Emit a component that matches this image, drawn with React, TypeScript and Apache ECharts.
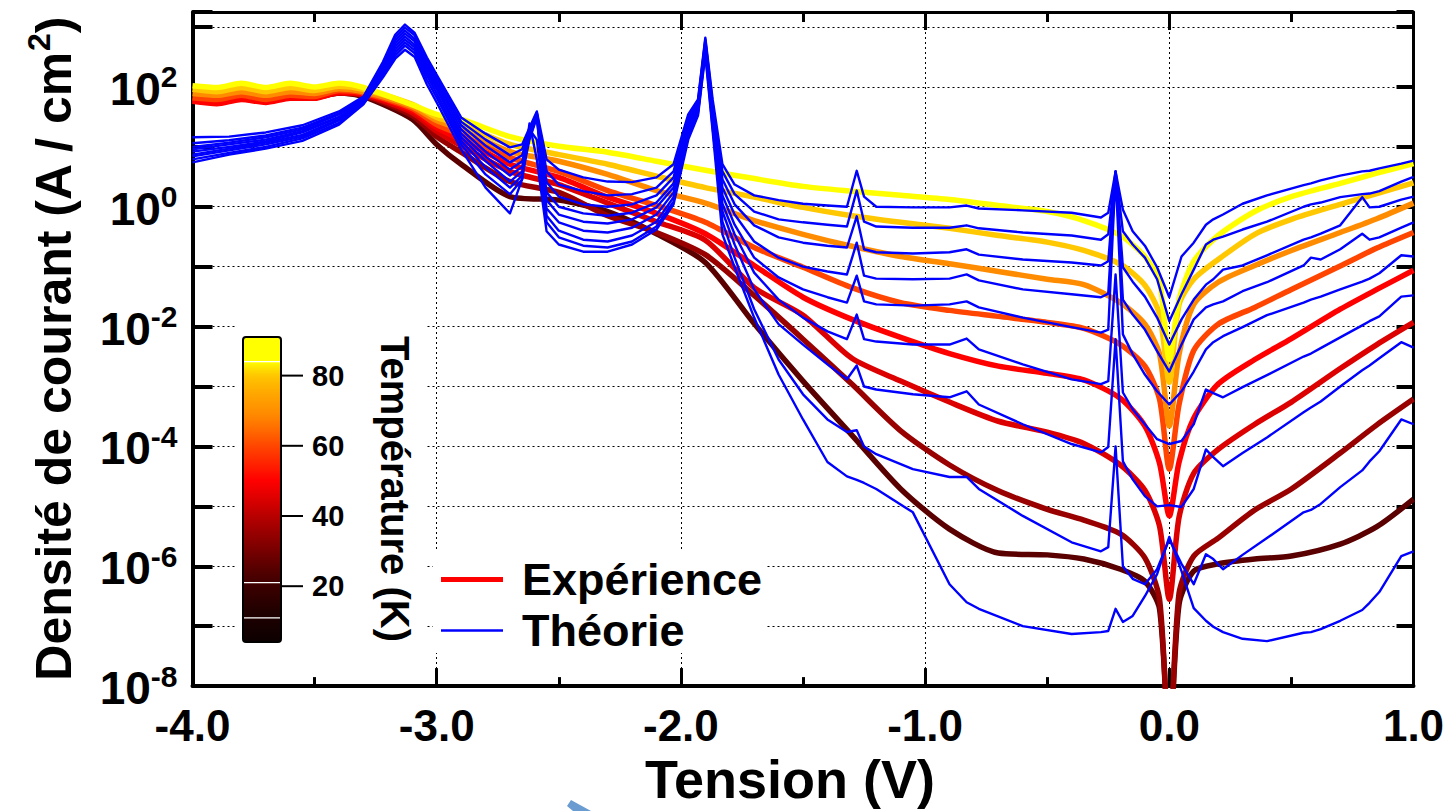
import React, { useEffect, useRef } from 'react';
import * as echarts from 'echarts';

const FONT = "'Liberation Sans', Arial, Helvetica, sans-serif";

// ---------- Experimental data: voltage (V) and log10 of current density (A/cm^2) ----------
const V_EXP = [-4.0, -3.9, -3.8, -3.7, -3.6, -3.5, -3.4, -3.3, -3.1, -3.0, -2.9, -2.7, -2.5, -2.3, -2.1, -1.9, -1.7, -1.5, -1.3, -1.1, -0.9, -0.7, -0.5, -0.35, -0.2, -0.1, -0.04, 0, 0.04, 0.1, 0.2, 0.35, 0.5, 0.7, 0.85, 1.0];

// lowest temperature -> highest temperature
const expT1 = [1.79, 1.76, 1.82, 1.77, 1.84, 1.84, 1.9, 1.84, 1.46, 1.04, 0.71, 0.17, 0.11, -0.08, -0.45, -0.93, -1.95, -2.91, -3.81, -4.71, -5.38, -5.78, -5.81, -5.88, -6.05, -6.25, -6.71, -9, -6.63, -6.08, -5.96, -5.88, -5.83, -5.63, -5.34, -4.88];
const expT2 = [1.79, 1.76, 1.82, 1.77, 1.84, 1.84, 1.9, 1.86, 1.52, 1.17, 0.91, 0.42, 0.24, -0.15, -0.43, -0.8, -1.48, -2.21, -2.96, -3.74, -4.31, -4.74, -5.05, -5.23, -5.46, -5.86, -6.55, -9, -6.45, -5.83, -5.53, -5.06, -4.71, -4.11, -3.64, -3.21];
const expT3 = [1.77, 1.74, 1.8, 1.76, 1.82, 1.82, 1.9, 1.87, 1.57, 1.26, 1.02, 0.59, 0.37, 0.06, -0.25, -0.56, -1.35, -1.81, -2.53, -2.91, -3.26, -3.58, -3.76, -3.95, -4.31, -4.73, -5.33, -6.55, -5.18, -4.45, -4.05, -3.63, -3.26, -2.7, -2.3, -1.93];
const expT4 = [1.76, 1.72, 1.79, 1.74, 1.81, 1.81, 1.91, 1.89, 1.61, 1.32, 1.12, 0.71, 0.49, 0.16, -0.11, -0.45, -0.98, -1.51, -1.88, -2.18, -2.45, -2.66, -2.78, -2.89, -3.2, -3.66, -4.28, -5.16, -4.26, -3.53, -2.96, -2.55, -2.2, -1.71, -1.38, -1.06];
const expT5 = [1.82, 1.79, 1.86, 1.79, 1.86, 1.84, 1.94, 1.9, 1.64, 1.37, 1.2, 0.82, 0.59, 0.27, 0.02, -0.26, -0.68, -1.01, -1.35, -1.6, -1.73, -1.83, -1.93, -2.03, -2.3, -2.66, -3.21, -4.38, -3.3, -2.4, -1.96, -1.68, -1.38, -0.99, -0.69, -0.43];
const expT6 = [1.89, 1.86, 1.92, 1.86, 1.92, 1.89, 1.97, 1.92, 1.67, 1.44, 1.29, 0.92, 0.76, 0.54, 0.27, 0.06, -0.23, -0.46, -0.66, -0.83, -0.95, -1.08, -1.21, -1.3, -1.6, -1.96, -2.46, -3.66, -2.46, -1.63, -1.26, -0.98, -0.73, -0.43, -0.2, 0.06];
const expT7 = [1.96, 1.92, 1.99, 1.92, 1.99, 1.94, 2.01, 1.96, 1.71, 1.49, 1.37, 1.04, 0.87, 0.71, 0.51, 0.32, 0.16, -0.01, -0.15, -0.26, -0.36, -0.48, -0.59, -0.73, -0.96, -1.31, -1.8, -2.93, -1.63, -1.21, -0.88, -0.46, -0.21, 0.04, 0.22, 0.4];
const expT8 = [2.02, 1.99, 2.06, 1.99, 2.06, 2.0, 2.06, 1.99, 1.7, 1.54, 1.46, 1.17, 1.01, 0.91, 0.76, 0.61, 0.47, 0.34, 0.26, 0.19, 0.12, 0.02, -0.08, -0.23, -0.48, -0.83, -1.25, -2.55, -1.55, -0.91, -0.48, -0.08, 0.17, 0.39, 0.56, 0.72];
const EXP_COLORS = ['#5a0000', '#990000', '#dd0000', '#ff0000', '#ff4500', '#ff8c00', '#ffc800', '#ffff00'];

// ---------- Theory data ----------
const V_TH = [-4.0, -3.85, -3.7, -3.55, -3.4, -3.3, -3.22, -3.17, -3.13, -3.09, -3.04, -3.0, -2.9, -2.8, -2.7, -2.65, -2.62, -2.59, -2.55, -2.5, -2.4, -2.3, -2.2, -2.1, -2.03, -1.97, -1.93, -1.9, -1.87, -1.83, -1.78, -1.7, -1.6, -1.5, -1.4, -1.32, -1.28, -1.25, -1.2, -1.05, -0.9, -0.83, -0.78, -0.6, -0.4, -0.28, -0.25, -0.22, -0.19, -0.15, -0.1, -0.05, 0, 0.05, 0.1, 0.15, 0.18, 0.22, 0.3, 0.4, 0.55, 0.58, 0.62, 0.7, 0.79, 0.82, 0.86, 0.95, 1.0];

const th0 = [1.16, 1.17, 1.24, 1.36, 1.59, 1.84, 2.42, 2.87, 3.04, 2.9, 2.49, 2.2, 1.49, 1.22, 0.99, 1.04, 1.32, 1.59, 0.79, 0.62, 0.49, 0.42, 0.41, 0.49, 0.71, 1.54, 1.79, 2.82, 1.79, 0.71, 0.37, 0.19, 0.11, 0.05, 0.02, 0.0, 0.6, 0.17, 0.0, -0.01, -0.01, 0.02, -0.03, -0.06, -0.1, -0.18, -0.1, 0.59, -0.05, -0.41, -0.65, -1.01, -1.51, -0.83, -0.6, -0.3, -0.21, -0.13, 0.05, 0.19, 0.36, 0.39, 0.44, 0.52, 0.59, 0.6, 0.64, 0.72, 0.77];
const th1 = [1.06, 1.11, 1.19, 1.32, 1.56, 1.82, 2.39, 2.82, 2.99, 2.86, 2.44, 2.16, 1.42, 1.12, 0.86, 0.96, 1.29, 1.57, 0.59, 0.37, 0.26, 0.19, 0.21, 0.32, 0.59, 1.49, 1.76, 2.79, 1.72, 0.59, 0.21, -0.08, -0.21, -0.26, -0.3, -0.33, 0.27, -0.25, -0.33, -0.35, -0.35, -0.31, -0.36, -0.43, -0.48, -0.55, -0.46, 0.59, -0.41, -0.63, -0.85, -1.21, -1.91, -1.46, -1.05, -0.63, -0.55, -0.5, -0.38, -0.25, 0.0, 0.04, 0.07, 0.16, 0.21, 0.22, 0.26, 0.42, 0.5];
const th2 = [1.0, 1.07, 1.16, 1.29, 1.54, 1.8, 2.36, 2.77, 2.94, 2.8, 2.39, 2.1, 1.36, 1.02, 0.74, 0.86, 1.26, 1.56, 0.41, 0.17, 0.04, 0.0, 0.04, 0.19, 0.49, 1.44, 1.72, 2.76, 1.66, 0.46, 0.04, -0.31, -0.51, -0.6, -0.65, -0.68, -0.16, -0.71, -0.76, -0.78, -0.76, -0.71, -0.8, -0.88, -0.93, -0.98, -0.91, 0.59, -1.01, -1.25, -1.5, -1.85, -2.3, -1.88, -1.55, -1.3, -1.21, -1.05, -0.98, -0.81, -0.55, -0.51, -0.45, -0.31, 0.16, -0.01, 0.0, 0.12, 0.17];
const th3 = [0.96, 1.04, 1.12, 1.26, 1.5, 1.79, 2.32, 2.72, 2.89, 2.76, 2.34, 2.06, 1.29, 0.92, 0.62, 0.76, 1.22, 1.54, 0.24, 0.0, -0.11, -0.15, -0.1, 0.07, 0.39, 1.39, 1.69, 2.72, 1.59, 0.32, -0.13, -0.58, -0.85, -1.0, -1.08, -1.13, -0.6, -1.15, -1.2, -1.21, -1.2, -1.13, -1.23, -1.38, -1.46, -1.51, -1.45, 0.57, -1.55, -1.8, -2.05, -2.41, -2.75, -2.3, -1.88, -1.68, -1.63, -1.58, -1.41, -1.26, -0.98, -0.85, -0.88, -0.71, -0.45, -0.55, -0.51, -0.35, -0.26];
const th4 = [0.92, 1.0, 1.09, 1.24, 1.49, 1.77, 2.29, 2.67, 2.84, 2.7, 2.29, 2.0, 1.22, 0.84, 0.52, 0.67, 1.19, 1.52, 0.11, -0.13, -0.25, -0.28, -0.21, -0.01, 0.32, 1.34, 1.66, 2.69, 1.52, 0.19, -0.3, -0.85, -1.18, -1.38, -1.51, -1.6, -1.15, -1.58, -1.63, -1.65, -1.63, -1.58, -1.68, -1.85, -2.01, -2.1, -2.05, 0.54, -2.13, -2.46, -2.8, -3.08, -3.3, -3.08, -2.75, -2.38, -2.26, -2.16, -2.01, -1.81, -1.6, -1.55, -1.5, -1.38, -1.25, -1.2, -1.11, -0.81, -0.83];
const th5 = [0.87, 0.97, 1.07, 1.2, 1.46, 1.76, 2.26, 2.62, 2.79, 2.66, 2.24, 1.96, 1.16, 0.76, 0.42, 0.59, 1.16, 1.5, -0.03, -0.26, -0.4, -0.43, -0.35, -0.13, 0.24, 1.29, 1.62, 2.66, 1.46, 0.05, -0.46, -1.1, -1.55, -1.85, -2.08, -2.21, -1.8, -2.21, -2.25, -2.3, -2.3, -2.2, -2.38, -2.63, -2.88, -2.96, -2.91, -1.13, -3.1, -3.38, -3.63, -3.88, -3.96, -3.91, -3.63, -3.05, -3.11, -3.18, -3.01, -2.81, -2.5, -2.45, -2.36, -2.18, -1.98, -1.91, -1.83, -1.5, -1.48];
const th6 = [0.84, 0.94, 1.04, 1.17, 1.44, 1.74, 2.22, 2.57, 2.74, 2.61, 2.19, 1.89, 1.1, 0.66, 0.32, 0.52, 1.12, 1.49, -0.15, -0.4, -0.55, -0.58, -0.48, -0.25, 0.16, 1.24, 1.59, 2.62, 1.39, -0.08, -0.63, -1.38, -1.96, -2.3, -2.63, -2.88, -2.65, -3.0, -3.05, -3.13, -3.18, -3.08, -3.3, -3.63, -3.96, -4.1, -4.01, -2.21, -4.25, -4.55, -4.83, -5.0, -4.98, -5.01, -4.71, -4.05, -4.18, -4.33, -4.11, -3.85, -3.43, -3.35, -3.25, -3.0, -2.73, -2.65, -2.53, -2.26, -2.35];
const th7 = [0.79, 0.9, 1.0, 1.14, 1.4, 1.72, 2.19, 2.52, 2.69, 2.56, 2.12, 1.82, 1.04, 0.54, 0.21, 0.46, 1.29, 1.12, -0.26, -0.51, -0.65, -0.68, -0.58, -0.33, 0.09, 1.19, 1.56, 2.59, 1.32, -0.25, -0.85, -1.71, -2.55, -3.13, -3.55, -3.76, -3.73, -4.0, -4.13, -4.38, -4.51, -4.51, -4.71, -5.16, -5.6, -5.75, -5.68, -4.0, -6.0, -6.21, -6.3, -6.05, -5.55, -5.96, -6.3, -5.8, -5.88, -6.05, -5.81, -5.53, -5.1, -5.06, -4.96, -4.68, -4.4, -4.25, -4.08, -3.55, -3.63];
const th8 = [0.74, 0.87, 0.97, 1.1, 1.37, 1.71, 2.16, 2.47, 2.62, 2.5, 2.04, 1.74, 0.96, 0.32, -0.11, 0.46, 1.39, 0.79, -0.41, -0.63, -0.75, -0.75, -0.63, -0.38, 0.04, 1.12, 1.52, 2.54, 1.26, -0.46, -1.01, -1.85, -2.8, -3.55, -4.26, -4.5, -4.56, -4.61, -4.71, -5.1, -6.3, -6.6, -6.71, -7.0, -7.13, -7.1, -7.08, -6.71, -6.93, -6.83, -6.5, -6.13, -5.51, -6.08, -6.7, -6.91, -7.01, -7.1, -7.21, -7.25, -7.11, -7.1, -7.05, -6.91, -6.73, -6.61, -6.43, -5.83, -5.75];

// ---------- Axis / colorbar labels ----------
const X_MIN = -4;
const X_MAX = 1;
const LOG_MIN = -8;
const LOG_MAX = 3.25;
const CBAR_TICKS = [20, 40, 60, 80];
const CBAR_T_MIN = 4.1;
const CBAR_T_MAX = 91;

const EXP_SERIES = [expT1, expT2, expT3, expT4, expT5, expT6, expT7, expT8];
const TH_SERIES = [th8, th7, th6, th5, th4, th3, th2, th1, th0];

// colorbar geometry (layout only)
const CB_X = 243;
const CB_Y = 337;
const CB_W = 38;
const CB_H = 305;
const CB_STOPS: [number, string][] = [
  [0, '#ffff00'], [0.08, '#ffff00'], [0.11, '#ffd800'], [0.13, '#ffc400'], [0.19, '#ffa500'],
  [0.25, '#ff8c00'], [0.305, '#ff6a00'], [0.36, '#ff4400'], [0.42, '#ff2000'], [0.47, '#ff0000'],
  [0.525, '#e00000'], [0.587, '#b80000'], [0.64, '#990000'], [0.7, '#780000'], [0.757, '#580000'],
  [0.816, '#3c0000'], [0.895, '#220000'], [1, '#0c0000'],
];

function tempToY(t: number) {
  return CB_Y + CB_H * (1 - (t - CBAR_T_MIN) / (CBAR_T_MAX - CBAR_T_MIN));
}

function buildOption(): any {
  const black = '#000';
  const dotted = { show: true, lineStyle: { color: black, width: 1, type: [2, 3] } };

  const series: any[] = [];
  EXP_SERIES.forEach((arr, i) => {
    series.push({
      type: 'line',
      name: 'Expérience',
      data: V_EXP.map((v, j) => [v, arr[j]]),
      showSymbol: false,
      symbol: 'none',
      smooth: 0.25,
      lineStyle: { color: EXP_COLORS[i], width: 5.5, join: 'round' },
      itemStyle: { color: EXP_COLORS[i] },
      z: 2,
      silent: true,
      emphasis: { disabled: true },
    });
  });
  TH_SERIES.forEach((arr) => {
    series.push({
      type: 'line',
      name: 'Théorie',
      data: V_TH.map((v, j) => [v, arr[j]]),
      showSymbol: false,
      symbol: 'none',
      lineStyle: { color: '#0000ff', width: 2.4, join: 'round' },
      itemStyle: { color: '#0000ff' },
      z: 3,
      silent: true,
      emphasis: { disabled: true },
    });
  });

  const graphics: any[] = [
    // white background boxes under colorbar and legend
    { type: 'rect', z: 1, silent: true, shape: { x: 235, y: 318, width: 190, height: 335 }, style: { fill: '#fff' } },
    { type: 'rect', z: 1, silent: true, shape: { x: 433, y: 550, width: 332, height: 103 }, style: { fill: '#fff' } },
    // colorbar
    {
      type: 'rect', z: 10, silent: true,
      shape: { x: CB_X, y: CB_Y, width: CB_W, height: CB_H, r: 3 },
      style: {
        fill: new echarts.graphic.LinearGradient(0, 0, 0, 1, CB_STOPS.map(([o, c]) => ({ offset: o, color: c }))),
        stroke: black, lineWidth: 2,
      },
    },
  ];
  [84, 21, 11].forEach((t) => {
    const y = tempToY(t);
    graphics.push({ type: 'line', z: 11, silent: true, shape: { x1: CB_X + 1, y1: y, x2: CB_X + CB_W - 1, y2: y }, style: { stroke: '#fff', lineWidth: 1.2 } });
  });
  CBAR_TICKS.forEach((t) => {
    const y = tempToY(t);
    graphics.push({ type: 'line', z: 11, silent: true, shape: { x1: CB_X + CB_W, y1: y, x2: CB_X + CB_W + 22, y2: y }, style: { stroke: black, lineWidth: 2 } });
    graphics.push({
      type: 'text', z: 11, silent: true, x: CB_X + CB_W + 31, y,
      style: { text: String(t), fill: black, font: `bold 29px ${FONT}`, align: 'left', verticalAlign: 'middle' },
    });
  });
  graphics.push({
    type: 'text', z: 11, silent: true, x: 395, y: 489, rotation: -Math.PI / 2,
    style: { text: 'Température (K)', fill: black, font: `bold 40px ${FONT}`, align: 'center', verticalAlign: 'middle' },
  });
  // small blue artefact at the bottom of the figure
  graphics.push({
    type: 'polygon', z: 20, silent: true,
    shape: { points: [[567, 806], [571, 800], [591, 811], [573, 811]] },
    style: { fill: '#6a9bd1' },
  });

  const legendText = { fontSize: 45, fontWeight: 'bold', fontFamily: FONT, color: black, padding: [0, 0, 0, 14] };

  return {
    animation: false,
    backgroundColor: '#fff',
    grid: { left: 192.5, right: 36.5, top: 12, bottom: 124, containLabel: false },
    legend: [
      {
        left: 441, top: 557, padding: 0, selectedMode: false, itemWidth: 62, itemHeight: 5,
        data: [{ name: 'Expérience', icon: 'rect', itemStyle: { color: '#ff0000' } }],
        textStyle: legendText,
      },
      {
        left: 441, top: 608, padding: 0, selectedMode: false, itemWidth: 62, itemHeight: 2.5,
        data: [{ name: 'Théorie', icon: 'rect', itemStyle: { color: '#0000ff' } }],
        textStyle: legendText,
      },
    ],
    xAxis: [
      {
        type: 'value', min: X_MIN, max: X_MAX, interval: 1, position: 'bottom',
        axisLine: { onZero: false, lineStyle: { color: black, width: 4 } },
        axisTick: { inside: true, length: 18, lineStyle: { color: black, width: 3 } },
        minorTick: { show: true, splitNumber: 2, length: 9, lineStyle: { color: black, width: 3 } },
        splitLine: dotted,
        axisLabel: {
          formatter: (v: number) => v.toFixed(1), margin: 17,
          fontSize: 44, fontWeight: 'bold', fontFamily: FONT, color: black,
        },
        name: 'Tension (V)', nameLocation: 'middle', nameGap: 57,
        nameTextStyle: { fontSize: 54, fontWeight: 'bold', fontFamily: FONT, color: black, padding: [0, 26, 0, 0] },
      },
      {
        type: 'value', min: X_MIN, max: X_MAX, interval: 1, position: 'top',
        axisLine: { onZero: false, lineStyle: { color: black, width: 3 } },
        axisTick: { inside: true, length: 18, lineStyle: { color: black, width: 3 } },
        minorTick: { show: true, splitNumber: 2, length: 10, lineStyle: { color: black, width: 3 } },
        splitLine: { show: false },
        axisLabel: { show: false },
      },
    ],
    yAxis: [
      {
        type: 'value', min: LOG_MIN, max: LOG_MAX, interval: 1, position: 'left',
        axisLine: { onZero: false, lineStyle: { color: black, width: 4 } },
        axisTick: { inside: true, length: 20, lineStyle: { color: black, width: 4 } },
        splitLine: dotted,
        axisLabel: {
          margin: 15,
          formatter: (v: number) => {
            const e = Math.round(v);
            if (Math.abs(v - e) > 1e-6 || e % 2 !== 0) return '';
            return `{b|10}{s|${e}}`;
          },
          rich: {
            b: { fontSize: 46, fontWeight: 'bold', fontFamily: FONT, color: black, verticalAlign: 'bottom', lineHeight: 50 },
            s: { fontSize: 30, fontWeight: 'bold', fontFamily: FONT, color: black, verticalAlign: 'top', lineHeight: 50 },
          },
        },
        name: '{a|Densité de courant (A / cm}{s|2}{a|)}',
        nameLocation: 'middle', nameRotate: 90, nameGap: 114,
        nameTextStyle: {
          fontSize: 50, fontWeight: 'bold', fontFamily: FONT, color: black,
          rich: {
            a: { fontSize: 50, fontWeight: 'bold', fontFamily: FONT, color: black, verticalAlign: 'bottom', lineHeight: 56 },
            s: { fontSize: 32, fontWeight: 'bold', fontFamily: FONT, color: black, verticalAlign: 'top', lineHeight: 56 },
          },
        },
      },
      {
        type: 'value', min: LOG_MIN, max: LOG_MAX, interval: 1, position: 'right',
        axisLine: { onZero: false, lineStyle: { color: black, width: 3 } },
        axisTick: { inside: true, length: 17, lineStyle: { color: black, width: 4 } },
        splitLine: { show: false },
        axisLabel: { show: false },
      },
    ],
    graphic: graphics,
    series,
  };
}

export default function App() {
  const ref = useRef<HTMLDivElement>(null);
  useEffect(() => {
    document.body.style.margin = '0';
    const el = ref.current;
    if (!el) return;
    const chart = echarts.init(el, undefined, { renderer: 'svg' });
    chart.setOption(buildOption());
    return () => chart.dispose();
  }, []);
  return <div ref={ref} style={{ width: 1450, height: 811 }} />;
}
